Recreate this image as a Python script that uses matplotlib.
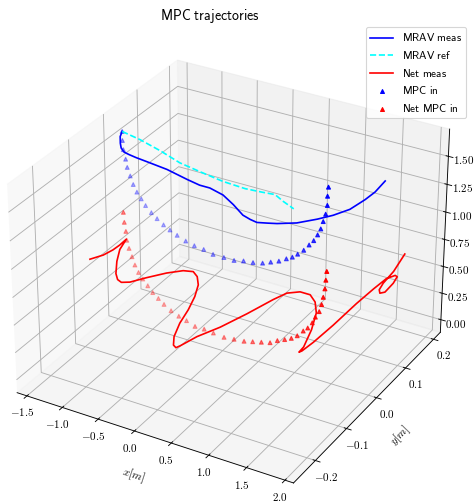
import matplotlib
matplotlib.use('Agg')
import matplotlib.pyplot as plt
from matplotlib.ticker import FuncFormatter, MultipleLocator

plt.rcParams['mathtext.fontset'] = 'cm'

# MPC input for the MRAV (y = 0 plane)
mpc_x = [-1.38, -1.38, -1.37, -1.34, -1.32, -1.28, -1.24, -1.19, -1.13, -1.07, -0.99, -0.91, -0.82,
         -0.73, -0.63, -0.51, -0.39, -0.26, -0.13, 0.02, 0.16, 0.29, 0.42, 0.55, 0.66, 0.77, 0.87,
         0.95, 1.02, 1.10, 1.17, 1.23, 1.28, 1.32, 1.35, 1.38, 1.40, 1.40, 1.41]
mpc_z = [1.63, 1.55, 1.47, 1.39, 1.32, 1.25, 1.18, 1.12, 1.07, 1.02, 0.97, 0.93, 0.89, 0.86, 0.83,
         0.80, 0.78, 0.77, 0.75, 0.75, 0.75, 0.77, 0.78, 0.80, 0.83, 0.86, 0.90, 0.93, 0.97, 1.02,
         1.08, 1.13, 1.19, 1.25, 1.32, 1.39, 1.47, 1.55, 1.63]
mpc_y = [0.0] * len(mpc_x)

# MPC input for the net
net_mpc_x = [-1.39, -1.38, -1.36, -1.35, -1.32, -1.28, -1.24, -1.19, -1.13, -1.06, -0.99, -0.91,
             -0.83, -0.73, -0.62, -0.51, -0.39, -0.26, -0.13, 0.02, 0.16, 0.30, 0.42, 0.54, 0.66,
             0.76, 0.86, 0.95, 1.03, 1.11, 1.17, 1.23, 1.27, 1.32, 1.35, 1.37, 1.39, 1.40, 1.41]
net_mpc_z = [0.90, 0.81, 0.73, 0.65, 0.58, 0.51, 0.44, 0.38, 0.33, 0.28, 0.23, 0.19, 0.15, 0.11,
             0.08, 0.06, 0.03, 0.03, 0.02, 0.01, 0.02, 0.03, 0.05, 0.07, 0.09, 0.13, 0.16, 0.19,
             0.23, 0.29, 0.33, 0.39, 0.45, 0.51, 0.58, 0.65, 0.73, 0.81, 0.89]
net_mpc_y = [0.0] * len(net_mpc_x)

# MRAV reference
ref_x = [-1.38, -1.13, -0.85, -0.58, -0.30, 0.01, 0.31, 0.54, 0.71, 0.82, 0.96]
ref_z = [1.63, 1.60, 1.55, 1.49, 1.46, 1.43, 1.42, 1.43, 1.44, 1.40, 1.36]
ref_y = [0.0] * len(ref_x)

# MRAV measured position
meas_x = [-1.38, -1.41, -1.41, -1.40, -1.36, -1.29, -1.19, -1.04, -0.76, -0.48, -0.31, -0.17, 0.01,
          0.15, 0.28, 0.38, 0.47, 0.61, 0.74, 0.92, 1.11, 1.24, 1.38, 1.50, 1.59, 1.68]
meas_y = [0.0] * 19 + [0.02, 0.04, 0.06, 0.08, 0.10, 0.11, 0.12]
meas_z = [1.63, 1.58, 1.52, 1.48, 1.45, 1.44, 1.43, 1.42, 1.40, 1.36, 1.34, 1.34, 1.31, 1.25, 1.18,
          1.16, 1.15, 1.17, 1.19, 1.18, 1.20, 1.21, 1.24, 1.30, 1.36, 1.45]

# net measured position
netm_x = [-1.14, -1.10, -1.11, -1.16, -1.21, -1.16, -1.01, -0.88, -0.76, -0.66, -0.59, -0.60,
          -0.60, -0.55, -0.50, -0.49, -0.43, -0.39, -0.30, -0.19, -0.04, 0.09, 0.17, 0.23, 0.32,
          0.41, 0.47, 0.53, 0.55, 0.65, 0.79, 0.90, 1.00, 1.10, 1.16, 1.18, 1.22, 1.29, 1.39, 1.50,
          1.61, 1.70, 1.78, 1.77, 1.72, 1.65, 1.62, 1.61, 1.66, 1.72, 1.75]
netm_y = [-0.15, -0.12, -0.09, -0.06, -0.03, -0.06, -0.10, -0.13, -0.15, -0.16, -0.15, -0.10,
          -0.04, 0.0, 0.02, 0.03, 0.02, 0.0, -0.04, -0.09, -0.14, -0.17, -0.18, -0.18, -0.15,
          -0.10, -0.03, 0.04, 0.08, 0.10, 0.10, 0.09, 0.07, 0.03, -0.01, -0.03, -0.03, -0.01, 0.03,
          0.08, 0.11, 0.13, 0.14, 0.15, 0.15, 0.14, 0.13, 0.13, 0.13, 0.15, 0.18]
netm_z = [0.89, 0.86, 0.83, 0.79, 0.76, 0.75, 0.77, 0.76, 0.78, 0.80, 0.79, 0.70, 0.59, 0.52, 0.47,
          0.40, 0.36, 0.31, 0.31, 0.34, 0.38, 0.41, 0.43, 0.46, 0.48, 0.45, 0.40, 0.36, 0.32, 0.30,
          0.30, 0.28, 0.25, 0.22, 0.18, 0.19, 0.21, 0.25, 0.32, 0.41, 0.49, 0.55, 0.57, 0.53, 0.46,
          0.39, 0.40, 0.43, 0.50, 0.57, 0.66]

W, H, DPI = 476, 502, 80
fig = plt.figure(figsize=(W / DPI, H / DPI), dpi=DPI)
side = 492
ax = fig.add_axes([-20 / W, -12 / H, side / W, side / H], projection='3d',
                  computed_zorder=False)

# markers first so the measured lines sit on top of them
sc_mpc = ax.scatter(mpc_x, mpc_y, mpc_z, marker='^', color='blue', s=12,
                    label=r'$\mathsf{MPC\ in}$')
sc_net = ax.scatter(net_mpc_x, net_mpc_y, net_mpc_z, marker='^', color='red', s=12,
                    label=r'$\mathsf{Net\ MPC\ in}$')
l_meas, = ax.plot(meas_x, meas_y, meas_z, color='blue', label=r'$\mathsf{MRAV\ meas}$')
l_ref, = ax.plot(ref_x, ref_y, ref_z, color='cyan', ls='--', label=r'$\mathsf{MRAV\ ref}$')
l_netm, = ax.plot(netm_x, netm_y, netm_z, color='red', label=r'$\mathsf{Net\ meas}$')

ax.set_xlim(-1.64, 2.11)
ax.set_ylim(-0.268, 0.225)
ax.set_zlim(-0.12, 1.74)
ax.zaxis.set_major_locator(MultipleLocator(0.25))

fmt1 = FuncFormatter(lambda v, p: f'${round(v, 6) + 0.0:.1f}$')
fmt2 = FuncFormatter(lambda v, p: f'${round(v, 6) + 0.0:.2f}$')
ax.xaxis.set_major_formatter(fmt1)
ax.yaxis.set_major_formatter(fmt1)
ax.zaxis.set_major_formatter(fmt2)
ax.tick_params(axis='x', pad=-1)
ax.tick_params(axis='y', pad=0.5)
ax.tick_params(axis='z', pad=0.5)
ax.set_xlabel('$x[m]$')
ax.set_ylabel('$y[m]$')
ax.set_zlabel('$z[m]$')
fig.suptitle(r'$\mathsf{MPC\ trajectories}$', fontsize=12.5, x=210 / W, y=1 - 7 / H, va='top')

ax.legend(handles=[l_meas, l_ref, l_netm, sc_mpc, sc_net], loc='upper right',
          bbox_to_anchor=(466 / W, 1 - 27 / H), bbox_transform=fig.transFigure,
          borderaxespad=0)
fig.savefig('out.png', dpi=DPI)
